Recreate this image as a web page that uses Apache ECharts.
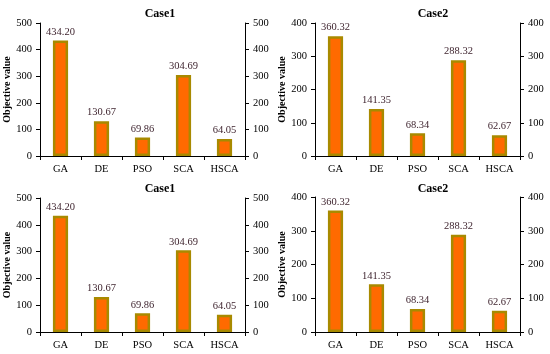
<!DOCTYPE html>
<html>
<head>
<meta charset="utf-8">
<script src="https://cdn.jsdelivr.net/npm/echarts@6/dist/echarts.min.js"></script>
<style>html,body{margin:0;padding:0;background:#fff;}#c{width:550px;height:354px;}</style>
</head>
<body>
<div id="c"></div>
<script>
const categories = ['GA', 'DE', 'PSO', 'SCA', 'HSCA'];
const case1Values = [434.20, 130.67, 69.86, 304.69, 64.05];
const case2Values = [360.32, 141.35, 68.34, 288.32, 62.67];
const panelTitles = ['Case1', 'Case2', 'Case1', 'Case2'];
const panelValues = [case1Values, case2Values, case1Values, case2Values];
const panelMax = [500, 400, 500, 400];
const yAxisName = 'Objective value';

const FONT = '"Liberation Serif", "Times New Roman", serif';
const grids = [
  {left: 40, right: 305, top: 23, bottom: 198},
  {left: 315, right: 30, top: 23, bottom: 198},
  {left: 40, right: 305, top: 198, bottom: 22},
  {left: 315, right: 30, top: 197, bottom: 22}
];
const titlePos = [
  {left: 155, top: 3},
  {left: 428, top: 3},
  {left: 155, top: 178},
  {left: 428, top: 178}
];
const axisLine = {show: true, lineStyle: {color: '#000', width: 1}};
const axisTick = {show: true, length: 4, lineStyle: {color: '#000'}};
const labelStyle = {color: '#000', fontFamily: FONT, fontSize: 10.5};

const option = {
  animation: false,
  backgroundColor: '#fff',
  title: panelTitles.map((t, i) => ({
    text: t, left: titlePos[i].left, top: titlePos[i].top, textAlign: 'center',
    textStyle: {fontFamily: FONT, fontSize: 12, fontWeight: 'bold', color: '#000'}
  })),
  grid: grids,
  xAxis: grids.map((g, i) => ({
    type: 'category', gridIndex: i, data: categories,
    axisLine: axisLine, axisTick: axisTick,
    axisLabel: Object.assign({margin: 8}, labelStyle)
  })),
  yAxis: [],
  series: []
};
grids.forEach((g, i) => {
  option.yAxis.push({
    type: 'value', gridIndex: i, min: 0, max: panelMax[i], interval: 100,
    position: 'left', splitLine: {show: false},
    axisLine: axisLine, axisTick: axisTick,
    axisLabel: Object.assign({margin: 8}, labelStyle),
    name: yAxisName, nameLocation: 'middle', nameGap: 28, nameRotate: 90,
    nameTextStyle: {fontFamily: FONT, fontSize: 10, fontWeight: 'bold', color: '#000'}
  });
  option.yAxis.push({
    type: 'value', gridIndex: i, min: 0, max: panelMax[i], interval: 100,
    position: 'right', splitLine: {show: false},
    axisLine: axisLine, axisTick: axisTick,
    axisLabel: Object.assign({margin: 8}, labelStyle)
  });
  option.series.push({
    type: 'bar', xAxisIndex: i, yAxisIndex: 2 * i,
    data: panelValues[i], barWidth: '37%',
    itemStyle: {color: '#FF6A00', borderColor: '#A88A00', borderWidth: 2.5},
    label: {show: true, position: 'top', distance: 3,
      formatter: p => p.value.toFixed(2),
      fontFamily: FONT, fontSize: 10.5, color: '#3a1f2a'}
  });
});
const chart = echarts.init(document.getElementById('c'), null, {renderer: 'canvas'});
chart.setOption(option);
</script>
</body>
</html>
